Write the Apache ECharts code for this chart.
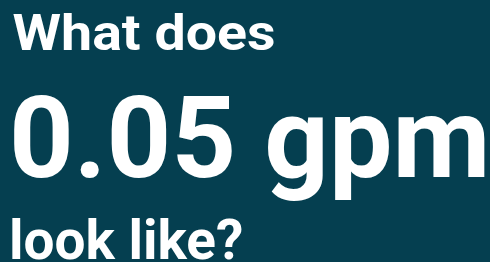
<!DOCTYPE html>
<html><head><meta charset="utf-8">
<script src="https://cdn.jsdelivr.net/npm/echarts@6/dist/echarts.min.js"></script>
<style>html,body{margin:0;padding:0;background:#053f50;}#c{width:490px;height:262px;}</style>
</head><body><div id="c"></div>
<script>
var lines = ['What does', '0.05 gpm', 'look like?'];
var sizes = [50, 113, 56];
var stretch = [1.11, 1.0, 0.98];
var baselines = [50, 177, 259];
var inkLeft = [12.5, 14, 12];
var cv = document.createElement('canvas').getContext('2d');
function place(t, s, base, left, sx){
  cv.font = '700 ' + s + 'px Roboto';
  cv.textBaseline = 'alphabetic';
  var a = cv.measureText(t);
  cv.textBaseline = 'middle';
  var m = cv.measureText(t);
  return {x: left + a.actualBoundingBoxLeft * sx, y: base - a.actualBoundingBoxAscent + m.actualBoundingBoxAscent};
}
var chart = echarts.init(document.getElementById('c'));
chart.setOption({
  backgroundColor: '#053f50',
  graphic: lines.map(function(t, i){
    var p = place(t, sizes[i], baselines[i], inkLeft[i], stretch[i]);
    return {type:'text', x: p.x, y: p.y, scaleX: stretch[i], scaleY: 1, originX: 0, originY: 0,
      style:{text:t, fill:'#ffffff', fontFamily:'Roboto', fontWeight:700, fontSize:sizes[i], verticalAlign:'middle', align:'left'}};
  })
});
</script></body></html>
